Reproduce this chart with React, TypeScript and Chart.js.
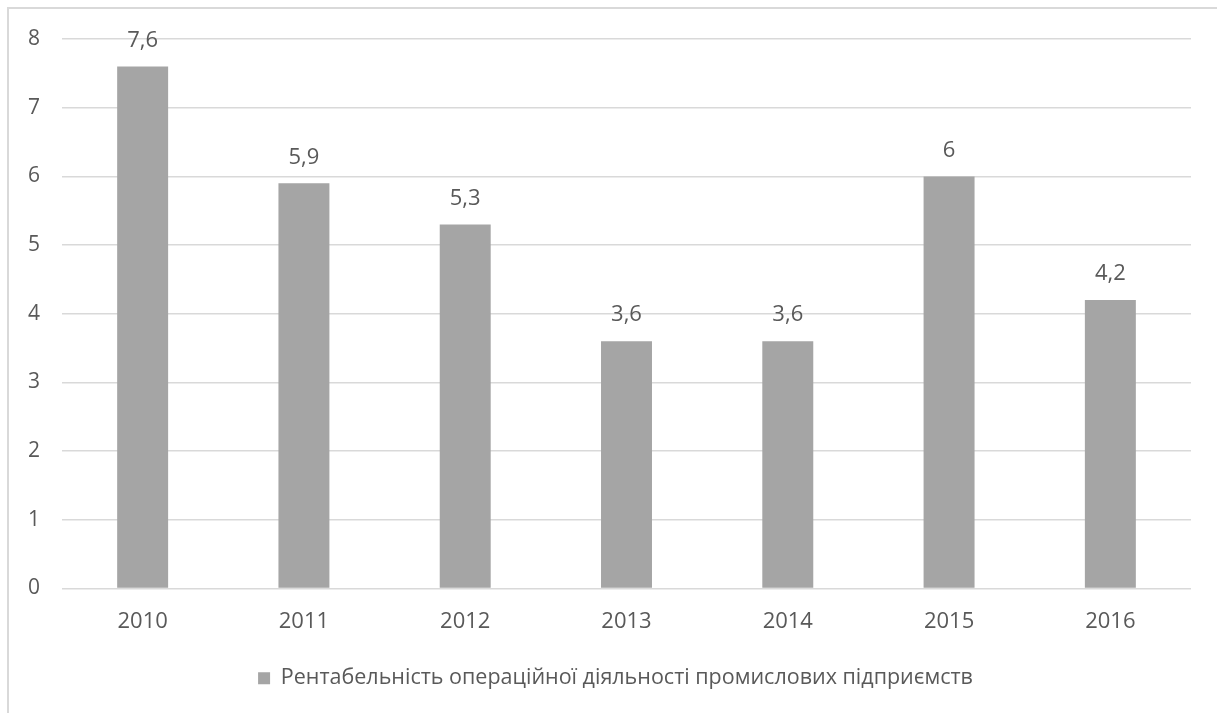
import React, { useEffect, useRef } from "react";
import { Chart, registerables } from "chart.js";

Chart.register(...registerables);

const categories = ["2010", "2011", "2012", "2013", "2014", "2015", "2016"];
const values = [7.6, 5.9, 5.3, 3.6, 3.6, 6, 4.2];
const seriesName = "Рентабельність операційної діяльності промислових підприємств";
const yTicks = [0, 1, 2, 3, 4, 5, 6, 7, 8];

const FONT = "'Open Sans', 'Liberation Sans', sans-serif";
const TEXT = "#595959";

const valueLabels = {
  id: "valueLabels",
  afterDatasetsDraw(chart: any) {
    const ctx = chart.ctx;
    const meta = chart.getDatasetMeta(0);
    ctx.save();
    ctx.font = `22px ${FONT}`;
    ctx.fillStyle = TEXT;
    ctx.textAlign = "center";
    ctx.textBaseline = "middle";
    meta.data.forEach((bar: any, i: number) => {
      const v = chart.data.datasets[0].data[i];
      ctx.fillText(String(v).replace(".", ","), bar.x, bar.y - 26);
    });
    ctx.restore();
  },
};

const legendShift = {
  id: "legendShift",
  afterLayout(chart: any) {
    if (chart.legend) chart.legend.left += 30;
  },
};

export default function App() {
  const ref = useRef<HTMLCanvasElement>(null);
  useEffect(() => {
    if (!ref.current) return;
    const chart = new Chart(ref.current, {
      type: "bar",
      data: {
        labels: categories,
        datasets: [
          {
            label: seriesName,
            data: values,
            backgroundColor: "#A5A5A5",
            borderWidth: 0,
            categoryPercentage: 1,
            barPercentage: 0.316,
          },
        ],
      },
      options: {
        animation: false,
        responsive: false,
        maintainAspectRatio: false,
        layout: { padding: { top: 29, right: 26, left: 0, bottom: 14 } },
        plugins: {
          tooltip: { enabled: false },
          legend: {
            position: "bottom",
            labels: {
              color: TEXT,
              font: { family: FONT, size: 21.5 },
              boxWidth: 12,
              boxHeight: 12,
              padding: 10,
            },
          },
        },
        scales: {
          x: {
            grid: { display: false, drawTicks: false },
            border: { display: false },
            ticks: { color: TEXT, font: { family: FONT, size: 22 }, padding: 20 },
            afterFit: (s: any) => {
              s.height = 69;
            },
          },
          y: {
            min: 0,
            max: 8,
            afterBuildTicks: (s: any) => {
              s.ticks = yTicks.map((v) => ({ value: v }));
            },
            grid: { color: "#D9D9D9", lineWidth: 1.5, drawTicks: false },
            border: { display: false },
            ticks: { color: TEXT, font: { family: FONT, size: 21 }, padding: 22 },
            afterFit: (s: any) => {
              s.width = 52;
              s.paddingTop = 0;
              s.paddingBottom = 0;
            },
          },
        },
      },
      plugins: [valueLabels, legendShift],
    });
    return () => chart.destroy();
  }, []);
  return (
    <>
      <div
        style={{
          position: "fixed",
          left: 7,
          top: 7,
          width: 1300,
          height: 800,
          borderTop: "2px solid #D9D9D9",
          borderLeft: "2px solid #D9D9D9",
          background: "#fff",
        }}
      />
      <div style={{ position: "fixed", left: 10, top: 10, width: 1207, height: 703 }}>
        <canvas ref={ref} width={1207} height={703} style={{ width: 1207, height: 703, display: "block" }} />
      </div>
    </>
  );
}
